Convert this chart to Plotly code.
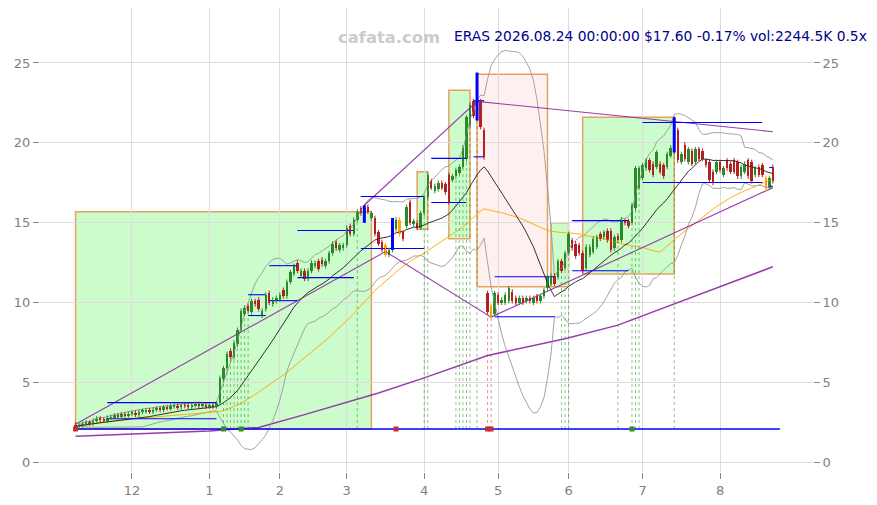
import pandas as pd
import plotly.graph_objects as go

# trading calendar (weekends + exchange holidays skipped)
holidays = ["2025-11-27", "2025-12-25", "2026-01-01", "2026-01-19", "2026-02-16",
            "2026-04-03", "2026-05-25", "2026-06-19", "2026-07-03"]
dates = [d for d in pd.bdate_range("2025-11-06", "2026-08-24")
         if d.strftime("%Y-%m-%d") not in holidays]

# daily candles
opens = [
    2.38, 2.28, 2.35, 2.42, 2.50, 2.45, 2.62, 2.75, 2.68, 2.62, 2.80, 2.85, 2.95, 2.90, 3.02, 2.95,
    3.05, 3.12, 3.00, 3.18, 3.22, 3.28, 3.18, 3.32, 3.38, 3.30, 3.45, 3.40, 3.52, 3.56, 3.45, 3.60,
    3.55, 3.48, 3.60, 3.66, 3.55, 3.62, 3.50, 3.58, 3.52,
    3.75, 5.2, 5.9, 7.0, 6.6, 7.4, 8.3, 9.3, 9.8, 9.4, 10.1, 10.2, 9.2, 9.6, 10.6, 9.9, 10.1, 10.2,
    10.8, 10.4, 11.3, 11.8, 12.5, 11.7, 12.0, 11.5, 12.0, 12.3, 12.6, 12.7, 12.3, 12.6, 13.1, 13.8,
    13.3, 13.4, 13.6, 14.8, 14.3, 15.2, 15.9, 15.6, 16.0, 15.3,
    15.3, 14.4, 13.8, 13.6, 13.0, 13.3, 14.6, 15.2, 14.4, 14.8, 16.3, 14.9, 15.0,
    14.7, 15.6, 16.6, 17.6, 17.0, 17.1, 17.5, 17.4, 18.0, 17.7, 17.9, 18.1, 18.5, 19.0, 21.1, 22.6,
    21.6, 22.6, 20.8,
    10.6, 9.8, 9.3, 10.5, 10.0, 10.0, 10.1, 10.7, 10.3, 10.0, 10.3, 10.1, 10.3, 10.0, 10.4, 10.1,
    10.4, 10.9, 11.2, 11.7, 11.6, 12.6, 12.2, 13.1, 13.9, 13.7, 13.6, 13.1, 12.2, 13.0, 13.2, 13.5,
    14.3, 14.1, 14.5, 14.5, 13.4, 14.2, 13.9, 15.1, 15.1, 15.0, 15.9, 17.2,
    17.8, 18.4, 18.9, 18.7, 18.5, 18.7, 18.6, 18.5, 19.2, 19.4, 20.8, 18.8, 19.9, 18.8, 19.5, 18.8,
    19.6, 19.5, 18.9, 18.8, 18.2, 18.2, 18.8, 18.0, 18.9, 18.7, 18.9, 18.8, 17.9, 18.2, 18.9, 18.8,
    18.0, 18.5, 18.6, 17.8, 17.2, 18.5,
]
closes = [
    2.28, 2.35, 2.42, 2.50, 2.45, 2.62, 2.75, 2.68, 2.62, 2.80, 2.85, 2.95, 2.90, 3.02, 2.95, 3.05,
    3.12, 3.00, 3.18, 3.22, 3.28, 3.18, 3.32, 3.38, 3.30, 3.45, 3.40, 3.52, 3.56, 3.45, 3.60, 3.55,
    3.48, 3.60, 3.66, 3.55, 3.62, 3.50, 3.58, 3.52, 3.70,
    5.3, 5.9, 6.8, 6.6, 7.5, 8.3, 9.5, 9.7, 9.5, 10.1, 9.9, 9.6, 9.5, 10.5, 10.0, 10.2, 10.3, 10.5,
    10.4, 11.3, 11.9, 12.3, 12.0, 12.0, 11.5, 12.0, 12.5, 12.5, 12.1, 12.4, 12.6, 13.1, 13.7, 13.4,
    13.6, 13.6, 14.7, 14.3, 15.2, 15.7, 15.6, 15.9, 15.7, 15.6,
    14.3, 13.7, 13.3, 13.0, 13.3, 14.6, 15.2, 14.3, 14.0, 16.0, 15.0, 15.1, 14.7,
    15.6, 16.6, 18.0, 17.2, 17.3, 17.5, 17.2, 16.9, 16.3, 17.9, 18.3, 18.5, 19.7, 21.6, 22.4, 21.7,
    22.5, 21.0, 19.1,
    9.4, 9.2, 10.6, 10.0, 10.2, 10.5, 10.9, 10.1, 10.0, 10.3, 10.0, 10.3, 10.1, 10.3, 10.1, 10.4,
    10.8, 11.6, 11.7, 11.2, 12.6, 12.0, 13.1, 14.3, 13.4, 12.9, 13.1, 12.0, 13.5, 13.5, 14.0, 14.1,
    14.0, 14.4, 13.9, 13.3, 14.1, 13.9, 15.2, 15.0, 14.8, 16.1, 18.4, 18.4,
    18.6, 18.9, 18.3, 18.0, 19.4, 18.2, 17.9, 19.3, 19.7, 21.5, 18.9, 19.3, 19.0, 19.6, 18.7, 19.6,
    19.0, 19.0, 18.6, 17.7, 17.5, 18.8, 18.3, 18.4, 18.4, 18.2, 18.2, 17.9, 18.5, 18.7, 17.9, 17.6,
    18.4, 18.0, 18.0, 17.1, 17.8, 17.6,
]
wick = 0.15
highs = [max(o, c) + wick for o, c in zip(opens, closes)]
lows = [min(o, c) - wick for o, c in zip(opens, closes)]
orange_idx = [88, 92, 118, 196]

# long moving average (purple, bottom) read at a few points
long_ma_idx = [0, 38, 52, 65, 86, 99, 117, 139, 154, 172, 198]
long_ma_val = [1.65, 1.97, 2.2, 3.0, 4.35, 5.3, 6.7, 7.75, 8.6, 10.1, 12.25]

# pivot trend lines
trend_low_idx = [0, 88, 118, 198]
trend_low_val = [2.4, 13.2, 9.1, 17.2]
trend_high_idx = [82, 114, 198]
trend_high_val = [16.1, 22.6, 20.7]

# zones: start idx, end idx, low, high, kind
zone_start = [0, 97, 106, 114, 135, 144]
zone_end = [84, 100, 112, 134, 140, 170]
zone_low = [2.1, 14.6, 14.0, 11.0, 11.0, 11.8]
zone_high = [15.7, 18.2, 23.3, 24.3, 15.0, 21.6]
zone_kind = ["up", "up", "up", "down", "up", "up"]

# blue range levels
lvl_start = [9, 49, 55, 63, 81, 101, 113, 119, 141, 161, 197]
lvl_end = [40, 54, 63, 79, 99, 111, 116, 136, 157, 195, 198]
lvl_hi = [3.75, 10.5, 12.32, 14.52, 16.65, 19.03, 22.64, 11.63, 15.14, 21.28, 18.46]
lvl_lo = [2.74, 9.2, 10.13, 11.57, 13.39, 16.27, 19.13, 9.12, 12.0, 17.52, 17.29]

# blue highlighted candles
blue_idx = [82, 90, 114, 170]
blue_lo = [15.0, 13.3, 21.4, 19.4]
blue_hi = [16.1, 15.3, 24.4, 21.6]

# signal days
sig_green = [42, 43, 44, 45, 46, 47, 48, 49, 80, 99, 100, 108, 109, 110, 111, 112, 114,
             138, 139, 140, 154, 158, 159, 160, 170]
sig_red = [117, 118]
base_level = 2.1
mark_idx = [0, 42, 47, 91, 117, 118, 158]
mark_col = ["#c03030", "#2e8b2e", "#2e8b2e", "#c03030", "#c03030", "#c03030", "#2e8b2e"]

month_labels = ["12", "1", "2", "3", "4", "5", "6", "7", "8"]

GREEN = "#2a8a2a"
RED = "#b22222"
ORANGE = "#ffa500"
PURPLE = "rgba(140,40,160,0.9)"

s = pd.Series(closes)
sma20 = s.rolling(20, min_periods=1).mean()
sd20 = s.rolling(20, min_periods=2).std(ddof=0)
bb_up = sma20 + 2 * sd20
bb_dn = sma20 - 2 * sd20
sma50 = s.rolling(50, min_periods=1).mean()

fig = go.Figure()

for a, b, lo, hi, kind in zip(zone_start, zone_end, zone_low, zone_high, zone_kind):
    fig.add_shape(type="rect", x0=dates[a], x1=dates[b], y0=lo, y1=hi, layer="below",
                  fillcolor="#ccfccc" if kind == "up" else "#fff0f0",
                  line=dict(color="#e8a060", width=1.5))

fig.add_trace(go.Scatter(x=[dates[i] for i in long_ma_idx], y=long_ma_val, mode="lines",
                         line=dict(color=PURPLE, width=1.5)))
fig.add_trace(go.Scatter(x=dates, y=bb_up, mode="lines", line=dict(color="#999", width=0.9)))
fig.add_trace(go.Scatter(x=dates, y=bb_dn, mode="lines", line=dict(color="#999", width=0.9)))
fig.add_trace(go.Scatter(x=dates, y=sma50, mode="lines", line=dict(color=ORANGE, width=0.9)))
fig.add_trace(go.Scatter(x=dates, y=sma20, mode="lines", line=dict(color="black", width=0.8)))
fig.add_trace(go.Scatter(x=[dates[i] for i in trend_low_idx], y=trend_low_val, mode="lines",
                         line=dict(color=PURPLE, width=1.1)))
fig.add_trace(go.Scatter(x=[dates[i] for i in trend_high_idx], y=trend_high_val, mode="lines",
                         line=dict(color=PURPLE, width=1.1)))

# blue level segments
lx, ly = [], []
for a, b, hi, lo in zip(lvl_start, lvl_end, lvl_hi, lvl_lo):
    lx += [dates[a], dates[b], None, dates[a], dates[b], None]
    ly += [hi, hi, None, lo, lo, None]
fig.add_trace(go.Scatter(x=lx, y=ly, mode="lines", line=dict(color="blue", width=1.1)))

# dotted signal verticals
for idx, col in ((sig_green, "rgba(30,140,30,0.75)"), (sig_red, "rgba(200,40,40,0.75)")):
    vx, vy = [], []
    for i in idx:
        vx += [dates[i], dates[i], None]
        vy += [base_level, lows[i], None]
    fig.add_trace(go.Scatter(x=vx, y=vy, mode="lines", line=dict(color=col, width=0.7, dash="dot")))

fig.add_trace(go.Scatter(x=[dates[0], pd.Timestamp("2026-08-26")], y=[base_level, base_level],
                         mode="lines", line=dict(color="blue", width=1.6)))

# candles
body_col = []
for i, (o, c) in enumerate(zip(opens, closes)):
    body_col.append(ORANGE if i in orange_idx else (GREEN if c >= o else RED))
for col in (GREEN, RED, ORANGE):
    wx, wy = [], []
    for i, d in enumerate(dates):
        if body_col[i] == col:
            wx += [d, d, None]
            wy += [lows[i], highs[i], None]
    fig.add_trace(go.Scatter(x=wx, y=wy, mode="lines", line=dict(color=col, width=1)))
fig.add_trace(go.Bar(x=dates, base=[min(o, c) for o, c in zip(opens, closes)],
                     y=[max(abs(c - o), 0.05) for o, c in zip(opens, closes)],
                     width=0.7 * 86400000, marker=dict(color=body_col, line=dict(width=0))))

bx, by = [], []
for i, lo, hi in zip(blue_idx, blue_lo, blue_hi):
    bx += [dates[i], dates[i], None]
    by += [lo, hi, None]
fig.add_trace(go.Scatter(x=bx, y=by, mode="lines", line=dict(color="blue", width=3)))

fig.add_trace(go.Scatter(x=[dates[i] for i in mark_idx], y=[base_level] * len(mark_idx),
                         mode="markers", marker=dict(symbol="square", size=5, color=mark_col)))

# right-hand axis copy
fig.add_trace(go.Scatter(x=[dates[0]], y=[None], yaxis="y2", showlegend=False))

month_starts = [d for i, d in enumerate(dates) if i > 0 and d.month != dates[i - 1].month]

tick_font = dict(family="DejaVu Sans", size=13, color="#808080")
yr = [-0.59, 28.44]
fig.update_layout(
    width=877, height=505,
    margin=dict(l=32, r=72, t=0, b=41),
    plot_bgcolor="white", paper_bgcolor="white",
    showlegend=False, hovermode=False, bargap=0,
    xaxis=dict(range=["2025-10-22 21:36", "2026-09-08 09:36"],
               rangebreaks=[dict(bounds=["sat", "mon"]), dict(values=holidays)],
               tickvals=month_starts, ticktext=month_labels,
               showgrid=True, gridcolor="#dcdcdc", gridwidth=1, zeroline=False,
               ticks="outside", ticklen=6, tickcolor="#888", tickfont=tick_font, showline=False),
    yaxis=dict(range=yr, tickvals=[0, 5, 10, 15, 20, 25], showgrid=True, gridcolor="#dcdcdc",
               zeroline=False, ticks="outside", ticklen=6, tickcolor="#888", tickfont=tick_font,
               showline=False),
    yaxis2=dict(range=yr, overlaying="y", side="right", tickvals=[0, 5, 10, 15, 20, 25],
                showgrid=False, zeroline=False, ticks="outside", ticklen=6, tickcolor="#888",
                tickfont=tick_font, showline=False),
    annotations=[
        dict(text="cafata.com", xref="paper", yref="paper", x=0.451, y=0.961,
             showarrow=False, font=dict(family="DejaVu Sans", size=16.4, color="#cccccc", weight="bold")),
        dict(text="ERAS 2026.08.24 00:00:00 $17.60 -0.17% vol:2244.5K 0.5x", xref="paper",
             yref="paper", x=1.072, y=0.961, xanchor="right", showarrow=False,
             font=dict(family="DejaVu Sans", size=13.8, color="#00008b")),
    ],
)

fig.write_html("out.html")
